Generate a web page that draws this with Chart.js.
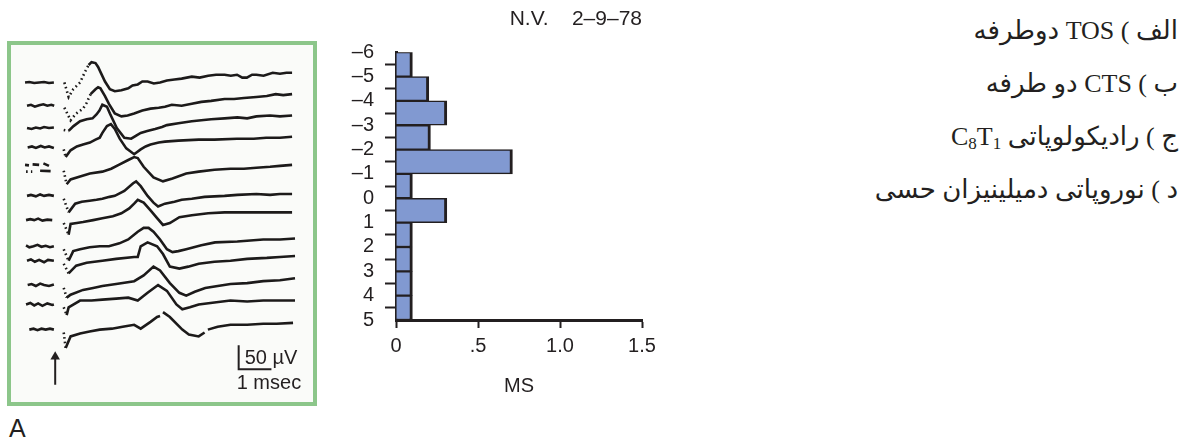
<!DOCTYPE html>
<html>
<head>
<meta charset="utf-8">
<script src="https://cdn.jsdelivr.net/npm/chart.js@4.4.1/dist/chart.umd.min.js"></script>
<style>
  html, body { margin: 0; padding: 0; background: #ffffff; }
  body { width: 1187px; height: 443px; position: relative; overflow: hidden;
         font-family: "Liberation Sans", Arial, sans-serif; color: #231f20; }
  #panel { position: absolute; left: 7px; top: 41px; width: 310px; height: 365px;
           border: 4px solid #8cc68a; box-sizing: border-box; background: #fafbf9; }
  #traces { position: absolute; left: 11px; top: 45px; }
  #hist { position: absolute; left: 330px; top: 0; }
  #tag { position: absolute; left: 9px; top: 414px; font-size: 25px; line-height: 28px; }
  #notes { position: absolute; right: 9px; top: 4px; direction: rtl; text-align: right;
           font-family: "Liberation Serif", "DejaVu Sans", serif; font-size: 26px; line-height: 53px; }
  #notes sub { font-size: 17px; vertical-align: -4px; line-height: 0; }
</style>
</head>
<body>
<div id="panel"></div>
<canvas id="traces" width="302" height="357"></canvas>
<canvas id="hist" width="340" height="410"></canvas>
<div id="tag">A</div>
<div id="notes">
  <div>الف ) TOS دوطرفه</div>
  <div>ب ) CTS دو طرفه</div>
  <div>ج ) رادیکولوپاتی C<sub>8</sub>T<sub>1</sub></div>
  <div>د ) نوروپاتی دمیلینیزان حسی</div>
</div>
<script>
// ---------- Histogram: counts per 1 ms latency bin ----------
const binLowerEdges = [-6, -5, -4, -3, -2, -1, 0, 1, 2, 3, 4];
const binValues = [0.1, 0.2, 0.31, 0.21, 0.71, 0.1, 0.31, 0.1, 0.1, 0.1, 0.1];
const yTickValues = [-6, -5, -4, -3, -2, -1, 0, 1, 2, 3, 4, 5];
const yTickLabels = ['–6', '–5', '–4', '–3', '–2', '–1', '0', '1', '2', '3', '4', '5'];
const xTickValues = [0, 0.5, 1.0, 1.5];
const xTickLabels = ['0', '.5', '1.0', '1.5'];
const histTitle = 'N.V.    2–9–78';
const histAxisTitle = 'MS';

// ---------- Superimposed responses: [time ms, amplitude µV], null = pen lift ----------
const traceOffsets = [644, 596, 550, 510, 470, 410, 360, 306, 276, 226, 186, 134];
const trace01 = [[-1.18,0],[-1.05,1],[-0.9,-1],[-0.75,0],[-0.6,1],[-0.45,-1],[-0.3,0],null,
  [0.02,0],[0.15,-30],[0.29,-14],[0.5,0],[0.65,22],[0.76,36],[0.85,42],[0.97,40],[1.05,32],[1.12,22],
  [1.26,2],[1.41,-14],[1.56,-18],[1.76,-16],[1.97,-12],[2.1,-6],[2.26,-4],[2.4,2],[2.56,2],[2.75,-2],
  [2.94,0],[3.15,4],[3.38,6],[3.6,8],[3.91,12],[4.15,10],[4.41,14],[4.65,16],[4.91,16],[5.1,14],
  [5.29,16],[5.45,10],[5.59,10],[5.75,16],[5.88,16],[6.1,14],[6.38,20],[6.6,18],[6.8,20],[6.97,20]];
const trace02 = [[-1.12,0],[-1.0,2],[-0.88,-2],[-0.75,1],[-0.62,3],[-0.5,0],[-0.38,2],[-0.29,0],null,
  [0.02,-4],[0.21,-30],[0.38,-16],[0.59,-6],[0.7,6],[0.82,24],[0.97,34],[1.05,38],[1.12,36],[1.26,20],
  [1.38,4],[1.56,-16],[1.76,-22],[1.95,-20],[2.15,-16],[2.4,-10],[2.65,-6],[2.9,-4],[3.09,-2],[3.3,2],
  [3.6,0],[3.91,4],[4.2,8],[4.5,10],[4.91,14],[5.2,14],[5.5,16],[5.88,18],[6.2,20],[6.47,24],[6.7,22],[6.97,24]];
const trace03 = [[-1.12,0],[-0.98,-2],[-0.85,1],[-0.72,-1],[-0.6,2],[-0.45,0],[-0.3,1],null,
  [0.0,-4],[0.15,-6],[0.3,4],[0.5,14],[0.7,18],[0.88,20],[1.0,28],[1.09,36],[1.18,48],[1.32,44],[1.41,30],
  [1.62,0],[1.85,-20],[2.06,-22],[2.2,-16],[2.35,-10],[2.55,-6],[2.79,-2],[3.0,2],[3.15,6],[3.5,10],
  [3.91,14],[4.2,16],[4.5,18],[4.91,20],[5.3,22],[5.6,20],[5.88,24],[6.3,26],[6.6,24],[6.97,26]];
const trace04 = [[-1.1,0],[-0.97,2],[-0.85,-1],[-0.7,3],[-0.58,0],[-0.45,2],[-0.3,-1],null,
  [0.0,-4],[0.06,-20],[0.21,-6],[0.4,2],[0.59,6],[0.8,10],[0.97,16],[1.1,20],[1.18,30],[1.32,44],[1.44,48],
  [1.56,38],[1.71,18],[1.91,-2],[2.15,-14],[2.35,-4],[2.5,2],[2.65,6],[2.9,10],[3.09,12],[3.5,14],
  [4.12,16],[4.6,16],[5.29,18],[5.8,18],[6.18,20],[6.6,20],[6.97,22]];
const trace05 = [[-1.18,4],[-1.06,3],null,[-0.95,5],[-0.75,4],null,[-0.62,7],[-0.45,2],null,
  [-1.15,-10],[-1.1,-10],null,[-1.0,-10],[-0.96,-10],null,[-0.72,-8],[-0.4,-9],null,
  [0.0,-8],[0.09,-36],[0.21,-26],[0.5,-20],[0.8,-14],[1.18,-10],[1.45,-4],[1.68,4],[1.97,14],[2.15,20],
  [2.26,18],[2.44,0],[2.74,-22],[3.03,-30],[3.32,-24],[3.74,-14],[4.12,-10],[4.6,-6],[5.09,-4],[5.5,-4],
  [5.88,-2],[6.3,0],[6.6,2],[6.97,4]];
const trace06 = [[-1.12,0],[-1.0,2],[-0.85,-1],[-0.72,3],[-0.6,0],[-0.45,2],[-0.3,0],null,
  [0.0,-6],[0.15,-34],[0.35,-16],[0.55,-12],[0.79,-10],[1.0,-8],[1.18,-6],[1.4,-2],[1.56,0],[1.85,10],
  [2.12,26],[2.21,30],[2.35,20],[2.56,0],[2.74,-14],[2.88,-22],[3.09,-16],[3.38,-12],[3.6,-8],[3.91,-6],
  [4.3,-2],[4.91,0],[5.3,2],[5.88,4],[6.3,2],[6.6,4],[6.97,4]];
const trace07 = [[-1.15,0],[-1.02,2],[-0.9,0],[-0.78,3],[-0.65,-1],[-0.5,1],[-0.35,0],null,
  [0.0,-6],[0.15,-30],[0.21,-8],[0.4,-6],[0.59,-4],[0.9,0],[1.18,4],[1.5,8],[1.76,14],[2.0,24],[2.15,34],
  [2.26,42],[2.44,36],[2.65,20],[2.85,4],[3.03,-10],[3.24,-6],[3.53,6],[3.91,10],[4.41,14],[4.91,16],
  [5.5,16],[6.2,16],[6.97,16]];
const trace08 = [[-1.15,2],[-1.05,-2],[-0.92,0],[-0.8,3],[-0.68,-1],[-0.55,1],[-0.42,-2],[-0.3,0],null,
  [0.0,-6],[0.15,-30],[0.29,-10],[0.5,-6],[0.79,-2],[1.1,0],[1.38,0],[1.7,6],[1.97,14],[2.26,30],[2.44,38],
  [2.59,38],[2.74,30],[2.94,14],[3.15,-6],[3.32,-12],[3.5,-10],[3.74,-6],[4.2,2],[4.62,8],[5.3,10],
  [6.09,14],[6.6,14],[7.06,16]];
const trace09 = [[-1.12,0],[-1.0,3],[-0.88,-2],[-0.75,2],[-0.6,-3],[-0.48,2],[-0.3,0],null,
  [0.0,-6],[0.15,-26],[0.38,-10],[0.7,-4],[1.18,0],[1.6,4],[2.15,8],[2.26,8],[2.35,30],[2.56,38],[2.85,30],
  [3.03,14],[3.24,-12],[3.53,-16],[3.8,-12],[4.12,-6],[4.6,-2],[5.09,0],[5.6,4],[6.2,6],[6.6,8],[7.06,10]];
const trace10 = [[-1.1,0],[-0.98,2],[-0.85,-2],[-0.72,3],[-0.6,0],[-0.45,-2],[-0.3,1],null,
  [0.0,-6],[0.09,-26],[0.21,-20],[0.59,-10],[0.9,-6],[1.18,-2],[1.6,2],[2.15,8],[2.44,20],[2.74,38],
  [2.94,30],[3.24,4],[3.53,-16],[3.74,-22],[4.0,-14],[4.32,-6],[4.7,-2],[5.09,2],[5.6,4],[6.09,8],
  [6.6,10],[7.06,14]];
const trace11 = [[-1.15,0],[-1.02,3],[-0.9,-2],[-0.78,2],[-0.65,-3],[-0.5,2],[-0.35,-1],[-0.3,0],null,
  [0.0,-6],[0.09,-22],[0.15,-6],[0.5,8],[0.85,8],[1.18,10],[1.6,12],[1.97,14],[2.26,8],[2.56,24],[2.88,40],
  [3.15,28],[3.44,0],[3.62,-10],[3.85,-6],[4.12,0],[4.6,4],[5.09,8],[5.6,6],[6.09,8],[6.6,8],[7.06,8]];
const trace12 = [[-1.05,0],[-0.92,2],[-0.8,-1],[-0.68,2],[-0.55,0],[-0.42,2],[-0.3,0],null,
  [0.0,-6],[0.06,-38],[0.21,-14],[0.5,-8],[0.79,-4],[1.1,0],[1.47,2],[1.8,6],[2.15,10],[2.35,2],[2.65,16],
  [2.85,26],[2.94,28],null,[3.03,36],[3.24,26],[3.62,0],[3.82,-10],[4.12,-14],[4.3,-6],null,
  [4.4,0],[4.7,6],[5.09,10],[5.6,10],[6.09,12],[6.5,12],[7.0,14]];
const traces = [trace01, trace02, trace03, trace04, trace05, trace06,
                trace07, trace08, trace09, trace10, trace11, trace12];

// stimulus marker and calibration (50 µV / 1 msec)
const stimulusArrow = [[-0.26, 20], [-0.26, 78]];
const calibration = [[5.34, 102], [5.34, 52], [6.34, 52]];
const calibrationLabels = ['50 \u00b5V', '1 msec'];

const ink = '#231f20';
const sansFont = '"Liberation Sans", Arial, sans-serif';

// fast edges are drawn as dots on the original sweeps
const dottedUntilMs = [0.72, 0.8, 0.05, 0.05, 0.05, 0.05, 0.05, 0.05, 0.05, 0.05, 0.05, 0.05];

function toPoints(arr, offset) {
  let lastX = 0;
  return arr.map(p => {
    if (p === null) return { x: lastX, y: null };
    lastX = p[0];
    return { x: p[0], y: offset + p[1] };
  });
}

const traceDatasets = traces.map((tr, i) => ({
  data: toPoints(tr, traceOffsets[i]),
  showLine: true,
  spanGaps: false,
  borderColor: '#1c1a1a',
  borderWidth: 2.6,
  pointRadius: 0,
  tension: 0,
  segment: {
    borderDash: ctx => (ctx.p0.parsed.x >= -0.05 && ctx.p0.parsed.x < dottedUntilMs[i]) ? [1.6, 3] : undefined
  }
}));

const calibrationText = {
  id: 'calibrationText',
  afterDatasetsDraw(chart) {
    const { ctx, scales: { x, y } } = chart;
    const cx = x.getPixelForValue(calibration[0][0]);
    const yTop = y.getPixelForValue(calibration[0][1]);
    const yBot = y.getPixelForValue(calibration[1][1]);
    ctx.save();
    ctx.fillStyle = ink;
    ctx.font = '20px ' + sansFont;
    ctx.textBaseline = 'middle';
    ctx.textAlign = 'left';
    ctx.fillText(calibrationLabels[0], cx + 6, (yTop + yBot) / 2 + 1);
    ctx.fillText(calibrationLabels[1], cx - 2, yBot + 14);
    ctx.restore();
  }
};

new Chart(document.getElementById('traces'), {
  type: 'scatter',
  data: {
    datasets: [
      ...traceDatasets,
      {
        data: stimulusArrow.map(p => ({ x: p[0], y: p[1] })),
        showLine: true, borderColor: ink, borderWidth: 2,
        pointStyle: 'triangle', pointRadius: [0, 5.5], pointBackgroundColor: ink, pointBorderWidth: 0
      },
      {
        data: calibration.map(p => ({ x: p[0], y: p[1] })),
        showLine: true, borderColor: ink, borderWidth: 2, pointRadius: 0
      }
    ]
  },
  options: {
    responsive: false,
    animation: false,
    events: [],
    layout: { padding: 0 },
    plugins: { legend: { display: false }, tooltip: { enabled: false } },
    scales: {
      x: { type: 'linear', display: false, min: -1.441, max: 7.441 },
      y: { type: 'linear', display: false, min: -4, max: 710 }
    }
  },
  plugins: [calibrationText]
});

// ---------- Histogram chart ----------
new Chart(document.getElementById('hist'), {
  type: 'bar',
  data: {
    datasets: [{
      data: binLowerEdges.map((e, i) => ({ x: binValues[i], y: e + 0.5 })),
      backgroundColor: '#8199d1',
      borderColor: ink,
      borderWidth: { top: 1.5, bottom: 1.5, right: 3, left: 0 },
      borderSkipped: false,
      barPercentage: 1,
      categoryPercentage: 1
    }]
  },
  options: {
    indexAxis: 'y',
    responsive: false,
    animation: false,
    events: [],
    layout: { padding: { left: 10, right: 28, top: 0, bottom: 12 } },
    plugins: {
      legend: { display: false },
      tooltip: { enabled: false },
      title: {
        display: true, text: histTitle, align: 'end', color: ink,
        font: { family: sansFont, size: 21, weight: 'normal' },
        padding: { top: 7, bottom: 20 }
      }
    },
    scales: {
      y: {
        type: 'linear', reverse: true, min: -6, max: 5, offset: false,
        afterBuildTicks: s => { s.ticks = yTickValues.map(v => ({ value: v })); },
        afterFit: s => { s.width = 56; },
        ticks: {
          autoSkip: false, color: ink, padding: 11,
          font: { family: sansFont, size: 20 },
          callback: v => yTickLabels[yTickValues.indexOf(v)]
        },
        grid: { drawOnChartArea: false, drawTicks: true, tickLength: 11, tickWidth: 2, tickColor: ink },
        border: { display: true, width: 3, color: ink }
      },
      x: {
        type: 'linear', min: 0, max: 1.5, offset: false,
        afterBuildTicks: s => { s.ticks = xTickValues.map(v => ({ value: v })); },
        ticks: {
          autoSkip: false, color: ink, padding: 6, maxRotation: 0,
          font: { family: sansFont, size: 20 },
          callback: v => xTickLabels[xTickValues.indexOf(v)]
        },
        grid: { drawOnChartArea: false, drawTicks: true, tickLength: 8, tickWidth: 2, tickColor: ink },
        border: { display: true, width: 3, color: ink },
        title: {
          display: true, text: histAxisTitle, color: ink,
          font: { family: sansFont, size: 20 },
          padding: { top: 10, bottom: 0 }
        }
      }
    }
  }
});
</script>
</body>
</html>
